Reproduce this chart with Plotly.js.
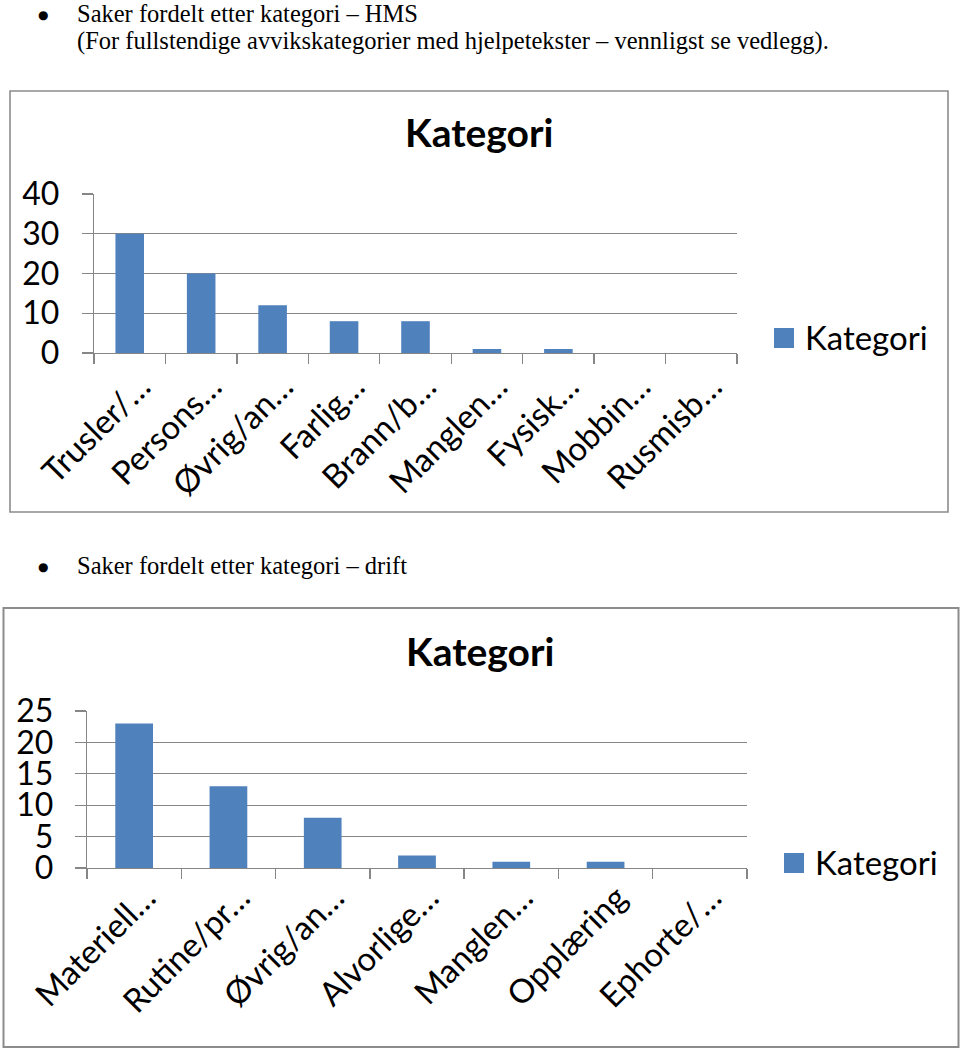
<!DOCTYPE html>
<html>
<head>
<meta charset="utf-8">
<script src="https://cdn.plot.ly/plotly-3.0.1.min.js"></script>
<style>
html,body{margin:0;padding:0;background:#fff;}
#chart{width:960px;height:1050px;}
</style>
</head>
<body>
<div id="chart"></div>
<script>
// ---- data ----
const hmsCategories = ["Trusler/\u2026", "Persons\u2026", "\u00d8vrig/an\u2026", "Farlig\u2026", "Brann/b\u2026", "Manglen\u2026", "Fysisk\u2026", "Mobbin\u2026", "Rusmisb\u2026"];
const hmsValues = [30, 20, 12, 8, 8, 1, 1, 0, 0];
const driftCategories = ["Materiell\u2026", "Rutine/pr\u2026", "\u00d8vrig/an\u2026", "Alvorlige\u2026", "Manglen\u2026", "Oppl\u00e6ring", "Ephorte/\u2026"];
const driftValues = [23, 13, 8, 2, 1, 1, 0];
const seriesName = "Kategori";
const chartTitle = "Kategori";
const hmsTicks = [0, 10, 20, 30, 40];
const driftTicks = [0, 5, 10, 15, 20, 25];
const bulletText1 = "Saker fordelt etter kategori \u2013 HMS";
const bulletText2 = "(For fullstendige avvikskategorier med hjelpetekster \u2013 vennligst se vedlegg).";
const bulletText3 = "Saker fordelt etter kategori \u2013 drift";

// ---- layout helpers ----
const W = 960, H = 1050;
const px = x => x / W;
const py = y => 1 - y / H;
const BAR = "#4F81BD";
const GRID = "#868686";
const FONT = "Lato, 'Open Sans', sans-serif";
const SERIF = "'Liberation Serif', 'Times New Roman', serif";

const traces = [
  {type: "bar", x: hmsCategories, y: hmsValues, name: seriesName, marker: {color: BAR}, xaxis: "x", yaxis: "y", showlegend: false, hoverinfo: "x+y"},
  {type: "bar", x: driftCategories, y: driftValues, name: seriesName, marker: {color: BAR}, xaxis: "x2", yaxis: "y2", showlegend: false, hoverinfo: "x+y"}
];

function xax(domain, anchor, shift, standoff) {
  return {
    domain: domain, anchor: anchor, type: "category",
    showline: true, linecolor: GRID, linewidth: 1.3,
    ticks: "outside", tickson: "boundaries", ticklen: 10, tickcolor: GRID, tickwidth: 1.3,
    tickangle: -45, tickfont: {family: FONT, size: 33, color: "#000"},
    ticklabelshift: shift, ticklabelstandoff: standoff,
    showgrid: false, zeroline: false, fixedrange: true
  };
}
function yax(domain, anchor, ticks, font, standoff) {
  return {
    domain: domain, anchor: anchor, range: [0, ticks[ticks.length - 1]],
    tickvals: ticks, ticktext: ticks.map(String),
    showline: true, linecolor: GRID, linewidth: 1.3,
    ticks: "outside", ticklen: 11, tickcolor: GRID, tickwidth: 1.3,
    showgrid: true, gridcolor: GRID, gridwidth: 1.3, zeroline: false,
    tickfont: {family: FONT, size: font, color: "#000"},
    ticklabelstandoff: standoff, fixedrange: true
  };
}

const layout = {
  width: W, height: H,
  margin: {l: 0, r: 0, t: 0, b: 0, pad: 0},
  paper_bgcolor: "#fff", plot_bgcolor: "rgba(0,0,0,0)",
  bargap: 0.6,
  showlegend: false,
  xaxis: xax([px(94), px(737)], "y", 11, 0),
  yaxis: yax([py(353), py(194)], "x", hmsTicks, 32, 16),
  xaxis2: xax([px(87), px(747)], "y2", 12, -4),
  yaxis2: yax([py(868), py(711)], "x2", driftTicks, 32, 15),
  shapes: [
    {type: "rect", xref: "paper", yref: "paper", x0: px(10), x1: px(948), y0: py(91), y1: py(512), line: {color: "#8c8c8c", width: 1.6}, fillcolor: "rgba(0,0,0,0)", layer: "below"},
    {type: "rect", xref: "paper", yref: "paper", x0: px(3.5), x1: px(958.5), y0: py(608), y1: py(1047), line: {color: "#8c8c8c", width: 2}, fillcolor: "rgba(0,0,0,0)", layer: "below"},
    // legend swatches
    {type: "rect", xref: "paper", yref: "paper", x0: px(774), x1: px(794), y0: py(328), y1: py(348), line: {width: 0}, fillcolor: BAR},
    {type: "rect", xref: "paper", yref: "paper", x0: px(784), x1: px(804), y0: py(853), y1: py(873), line: {width: 0}, fillcolor: BAR}
  ],
  annotations: [
    {text: "\u25CF", x: px(43), y: py(15), xref: "paper", yref: "paper", xanchor: "center", yanchor: "middle", showarrow: false, font: {family: "DejaVu Sans", size: 12, color: "#000"}},
    {text: bulletText1, x: px(75), y: py(13), xref: "paper", yref: "paper", xanchor: "left", yanchor: "middle", showarrow: false, font: {family: SERIF, size: 24.5, color: "#000"}},
    {text: bulletText2, x: px(75), y: py(41), xref: "paper", yref: "paper", xanchor: "left", yanchor: "middle", showarrow: false, font: {family: SERIF, size: 24.5, color: "#000"}},
    {text: "\u25CF", x: px(43), y: py(567), xref: "paper", yref: "paper", xanchor: "center", yanchor: "middle", showarrow: false, font: {family: "DejaVu Sans", size: 12, color: "#000"}},
    {text: bulletText3, x: px(75), y: py(565), xref: "paper", yref: "paper", xanchor: "left", yanchor: "middle", showarrow: false, font: {family: SERIF, size: 24.5, color: "#000"}},
    {text: "<b>" + chartTitle + "</b>", x: px(479), y: py(132), xref: "paper", yref: "paper", xanchor: "center", yanchor: "middle", showarrow: false, font: {family: FONT, size: 39, color: "#000"}},
    {text: "<b>" + chartTitle + "</b>", x: px(480), y: py(651), xref: "paper", yref: "paper", xanchor: "center", yanchor: "middle", showarrow: false, font: {family: FONT, size: 39, color: "#000"}},
    {text: seriesName, x: px(803), y: py(337), xref: "paper", yref: "paper", xanchor: "left", yanchor: "middle", showarrow: false, font: {family: FONT, size: 33, color: "#000"}},
    {text: seriesName, x: px(813), y: py(862), xref: "paper", yref: "paper", xanchor: "left", yanchor: "middle", showarrow: false, font: {family: FONT, size: 33, color: "#000"}}
  ]
};

Plotly.newPlot("chart", traces, layout, {displayModeBar: false, staticPlot: true});
</script>
</body>
</html>
